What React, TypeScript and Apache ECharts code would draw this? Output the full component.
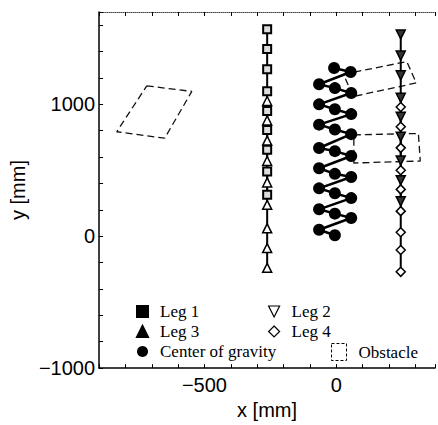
import React, { useEffect, useRef } from "react";
import * as echarts from "echarts";

const legX13 = -262;
const legX24 = 245;
const leg1Y = [1570, 1420, 1265, 1100, 950, 805, 655, 490, 315];
const leg3Y = [1025, 878, 725, 570, 408, 238, 60, -90, -240];
const leg2Y = [1530, 1370, 1220, 1050, 905, 755, 575, 425, 265];
const leg4Y = [980, 830, 670, 500, 355, 190, 30, -105, -270];

const cogX = [-8, 55, -65, -5, 57, -65, -5, 57, -65, -5, 57, -65, -5, 57, -65, -5, 57, -65, -5, 57, -65, -5, 57, -65, -5];
const cogY = [1275, 1245, 1152, 1123, 1086, 1000, 963, 926, 846, 809, 774, 669, 645, 608, 515, 473, 449, 363, 326, 289, 204, 171, 138, 49, 7];

const obstacle1X = [-719, -548, -651, -833];
const obstacle1Y = [1140, 1098, 743, 792];
const obstacle2X = [28, 268, 304, 64];
const obstacle2Y = [1228, 1324, 1162, 1059];
const obstacle3X = [67, 312, 319, 67];
const obstacle3Y = [768, 779, 570, 555];

const xTickLabels = [-500, 0];
const yTickLabels = [-1000, 0, 1000];

const pairs = (xs: number[] | number, ys: number[]) =>
  ys.map((y, i) => [Array.isArray(xs) ? xs[i] : xs, y]);
const closed = (xs: number[], ys: number[]) => {
  const p = pairs(xs, ys);
  return [...p, p[0]];
};

const invTri = "path://M0,0L10,0L5,10Z";

export default function App() {
  const ref = useRef<HTMLDivElement>(null);
  useEffect(() => {
    if (!ref.current) return;
    const chart = echarts.init(ref.current, undefined, { renderer: "svg" });
    const legStyle = { color: "#000", width: 2 };
    const obstacleSeries = [
      closed(obstacle1X, obstacle1Y),
      closed(obstacle2X, obstacle2Y),
      closed(obstacle3X, obstacle3Y),
    ].map((d) => ({
      name: "Obstacle",
      type: "line",
      data: d,
      showSymbol: false,
      symbol: "none",
      lineStyle: { color: "#111", width: 1.3, type: [7, 4] },
      itemStyle: { color: "rgba(0,0,0,0)", borderColor: "#111", borderWidth: 1, borderType: "dashed" },
      z: 1,
    }));
    const legendText = {
      fontFamily: "Liberation Serif",
      fontSize: 17,
      color: "#000",
      padding: [0, 0, 0, 7],
    };
    const fmt = (list: number[]) => (v: number) =>
      list.includes(v) ? (v < 0 ? "\u2212" + Math.abs(v) : String(v)) : "";
    chart.setOption({
      animation: false,
      backgroundColor: "#fff",
      grid: { left: 82, top: 12, right: 0, bottom: 48, containLabel: false },
      xAxis: [
        {
          type: "value",
          min: -900,
          max: 375,
          interval: 100,
          name: "x [mm]",
          nameLocation: "middle",
          nameGap: 28,
          nameTextStyle: { fontFamily: "Liberation Sans", fontSize: 20, color: "#000", verticalAlign: "top" },
          axisLine: { onZero: false, lineStyle: { color: "#000", width: 1.5 } },
          axisTick: { inside: true, length: 4, lineStyle: { color: "#000" } },
          axisLabel: { fontFamily: "Liberation Sans", fontSize: 20, color: "#000", margin: 7, formatter: fmt(xTickLabels) },
          splitLine: { show: false },
        },
        {
          type: "value",
          position: "top",
          min: -900,
          max: 375,
          interval: 100,
          axisLine: { onZero: false, lineStyle: { color: "#444", width: 1, type: "dotted" } },
          axisTick: { inside: true, length: 4, lineStyle: { color: "#000" } },
          axisLabel: { show: false },
          splitLine: { show: false },
        },
      ],
      yAxis: {
        type: "value",
        min: -1000,
        max: 1700,
        interval: 200,
        name: "y [mm]",
        nameLocation: "middle",
        nameGap: 49,
        nameRotate: 90,
        nameTextStyle: { fontFamily: "Liberation Sans", fontSize: 20, color: "#000" },
        axisLine: { onZero: false, lineStyle: { color: "#000", width: 1.5 } },
        axisTick: { inside: true, length: 4, lineStyle: { color: "#000" } },
        axisLabel: { fontFamily: "Liberation Sans", fontSize: 20, color: "#000", margin: 4, formatter: fmt(yTickLabels) },
        splitLine: { show: false },
      },
      legend: [
        {
          orient: "vertical",
          left: 131,
          top: 298,
          itemGap: 3,
          itemWidth: 11,
          itemHeight: 11,
          textStyle: legendText,
          data: [
            { name: "Leg 1", icon: "rect", itemStyle: { color: "#000" } },
            { name: "Leg 3", icon: "triangle", itemStyle: { color: "#000" } },
            { name: "Center of gravity", icon: "circle", itemStyle: { color: "#000" } },
          ],
        },
        {
          orient: "vertical",
          left: 263,
          top: 298,
          itemGap: 3,
          itemWidth: 11,
          itemHeight: 11,
          textStyle: legendText,
          data: [
            { name: "Leg 2", icon: invTri, itemStyle: { color: "#fff", borderColor: "#000", borderWidth: 1.2 } },
            { name: "Leg 4", icon: "diamond", itemStyle: { color: "#fff", borderColor: "#000", borderWidth: 1.2 } },
          ],
        },
        {
          left: 326,
          top: 338,
          itemWidth: 15,
          itemHeight: 17,
          textStyle: legendText,
          data: [
            {
              name: "Obstacle",
              icon: "rect",
              itemStyle: { color: "rgba(0,0,0,0)", borderColor: "#000", borderWidth: 1, borderType: [3, 2] },
            },
          ],
        },
      ],
      series: [
        ...obstacleSeries,
        {
          name: "Leg 1",
          type: "line",
          data: pairs(legX13, leg1Y),
          symbol: "rect",
          symbolSize: 8,
          lineStyle: legStyle,
          itemStyle: { color: "#ddd", borderColor: "#000", borderWidth: 2 },
          z: 3,
        },
        {
          name: "Leg 3",
          type: "line",
          data: pairs(legX13, leg3Y),
          symbol: "triangle",
          symbolSize: 9,
          lineStyle: legStyle,
          itemStyle: { color: "#fff", borderColor: "#000", borderWidth: 1.5 },
          z: 3,
        },
        {
          name: "Leg 2",
          type: "line",
          data: pairs(legX24, leg2Y),
          symbol: invTri,
          symbolSize: 9,
          lineStyle: legStyle,
          itemStyle: { color: "#333", borderColor: "#000", borderWidth: 1.5 },
          z: 3,
        },
        {
          name: "Leg 4",
          type: "line",
          data: pairs(legX24, leg4Y),
          symbol: "diamond",
          symbolSize: 9,
          lineStyle: legStyle,
          itemStyle: { color: "#fff", borderColor: "#000", borderWidth: 1.5 },
          z: 3,
        },
        {
          name: "Center of gravity",
          type: "line",
          data: pairs(cogX, cogY),
          symbol: "circle",
          symbolSize: 12,
          lineStyle: { color: "#000", width: 2.5 },
          itemStyle: { color: "#000" },
          z: 4,
        },
      ],
    });
    return () => chart.dispose();
  }, []);
  return (
    <div
      ref={ref}
      style={{ position: "fixed", left: 0, top: 0, width: 438, height: 425, background: "#fff" }}
    />
  );
}
